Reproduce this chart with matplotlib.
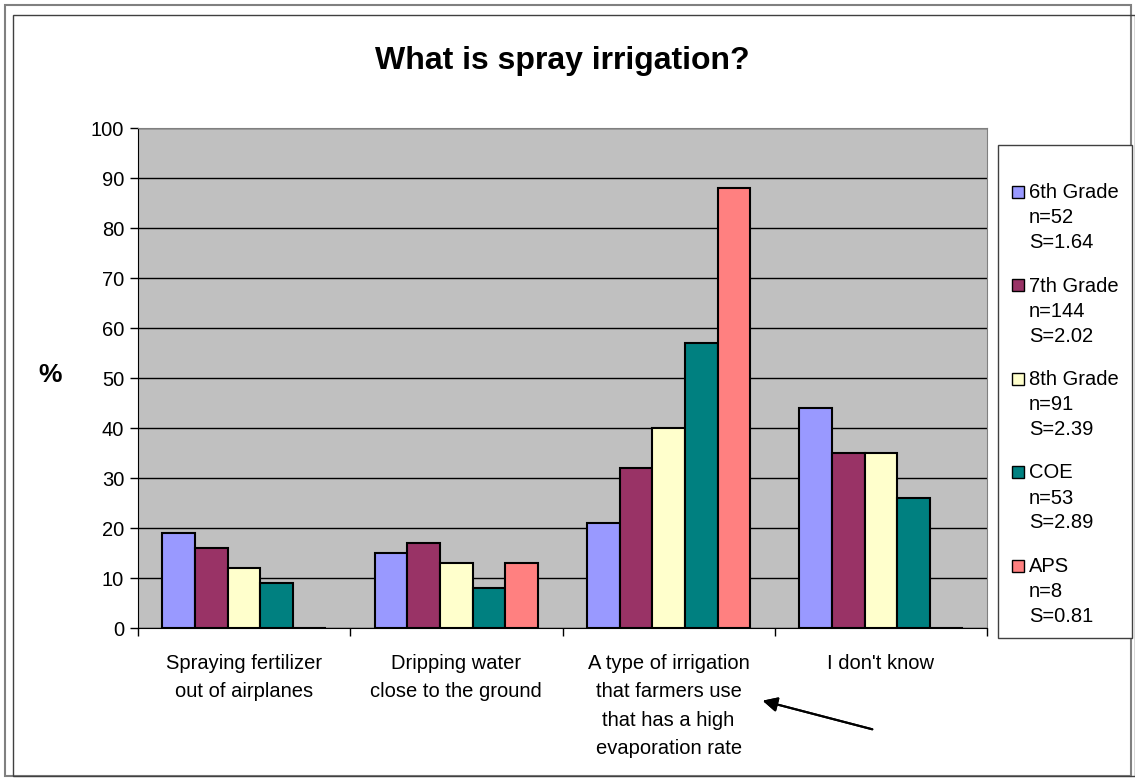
import matplotlib.pyplot as plt
from matplotlib.patches import Rectangle
import numpy as np

plt.rcParams['font.family'] = ['Liberation Sans', 'DejaVu Sans']

categories = ['Spraying fertilizer\nout of airplanes',
              'Dripping water\nclose to the ground',
              'A type of irrigation\nthat farmers use\nthat has a high\nevaporation rate',
              "I don't know"]
series_names = ['6th Grade\nn=52\nS=1.64', '7th Grade\nn=144\nS=2.02',
                '8th Grade\nn=91\nS=2.39', 'COE\nn=53\nS=2.89', 'APS\nn=8\nS=0.81']
grade6 = [19, 15, 21, 44]
grade7 = [16, 17, 32, 35]
grade8 = [12, 13, 40, 35]
coe = [9, 8, 57, 26]
aps = [0, 13, 88, 0]
values = [grade6, grade7, grade8, coe, aps]
colors = ['#9999FF', '#993366', '#FFFFCC', '#008080', '#FF8080']

fig = plt.figure(figsize=(11.35, 7.81), dpi=100)
W, H = 1135, 781

# outer chart frame (double border)
fig.patches.append(Rectangle((5 / W, 5 / H), 1 - 9 / W, 1 - 10 / H, transform=fig.transFigure,
                             fill=False, edgecolor='#808080', lw=1.5))
fig.patches.append(Rectangle((13 / W, 5 / H), 1 - 13 / W, 1 - 20 / H, transform=fig.transFigure,
                             fill=False, edgecolor='#404040', lw=1.0))

ax = fig.add_axes([138 / W, 1 - 628 / H, (987 - 138) / W, (628 - 128) / H])
ax.set_facecolor('#C0C0C0')

x = np.arange(len(categories))
bw = 0.154
for i, (vals, c) in enumerate(zip(values, colors)):
    ax.bar(x + (i - 2) * bw, vals, bw, color=c, edgecolor='black', linewidth=1.5, zorder=3)

ax.set_xlim(-0.5, len(categories) - 0.5)
ax.set_ylim(0, 100)
ax.set_yticks(range(0, 101, 10))
ax.yaxis.grid(True, color='black', linewidth=1.0, zorder=1)
ax.set_axisbelow(True)
ax.tick_params(axis='y', labelsize=14.5, length=6, width=1, direction='out', pad=4)

ax.set_xticks(np.arange(-0.5, len(categories), 1.0))
ax.set_xticklabels([])
ax.tick_params(axis='x', length=6, width=1, direction='out')
for xi, lab in zip(x, categories):
    ax.text(xi, -0.052, lab, transform=ax.get_xaxis_transform(), ha='center', va='top',
            fontsize=14.5, linespacing=1.62)

for s in ['top', 'right']:
    ax.spines[s].set_color('#808080')
for s in ['left', 'bottom']:
    ax.spines[s].set_color('black')

fig.text(562 / W, 1 - 61 / H, 'What is spray irrigation?', ha='center', va='center',
         fontsize=23, fontweight='bold')
fig.text(50 / W, 1 - 375 / H, '%', ha='center', va='center', fontsize=19, fontweight='bold')

# arrow pointing at the correct answer
fig.add_artist(plt.annotate('', xy=(760 / W, 1 - 700 / H), xytext=(875 / W, 1 - 730 / H),
                            xycoords='figure fraction', textcoords='figure fraction',
                            arrowprops=dict(arrowstyle='-|>', color='black', lw=1.5,
                                            mutation_scale=22)))

# legend box
fig.patches.append(Rectangle((998 / W, 1 - 638 / H), (1132 - 998) / W, (638 - 145) / H,
                             transform=fig.transFigure, facecolor='white', edgecolor='#404040', lw=1))
for i, (name, c) in enumerate(zip(series_names, colors)):
    y0 = 192 + i * 93.5
    fig.patches.append(Rectangle((1012 / W, 1 - (y0 + 6) / H), 12 / W, 12 / H,
                                 transform=fig.transFigure, facecolor=c, edgecolor='black', lw=1))
    fig.text(1029 / W, 1 - (y0 - 9) / H, name, ha='left', va='top', fontsize=14.5, linespacing=1.4)

fig.savefig('out.png', dpi=100)
